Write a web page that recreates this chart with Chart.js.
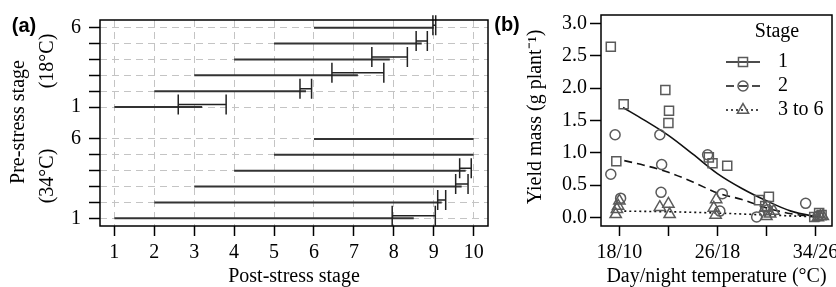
<!DOCTYPE html>
<html>
<head>
<meta charset="utf-8">
<script src="https://cdn.jsdelivr.net/npm/chart.js@4.4.0/dist/chart.umd.min.js"></script>
<style>
  html, body { margin: 0; padding: 0; background: #fff; overflow: hidden; width: 836px; height: 287px; }
  #chartA { position: absolute; left: 0; top: 0; }
  #chartB { position: absolute; left: 490px; top: 0; }
</style>
</head>
<body>
<canvas id="chartA" width="495" height="287"></canvas>
<canvas id="chartB" width="360" height="287"></canvas>
<script>
// ---- panel (a): development stage reached after stress ----
const preStages = [1, 2, 3, 4, 5, 6];
const postStages = [1, 2, 3, 4, 5, 6, 7, 8, 9, 10];
const mean18 = [3.2, 5.8, 7.1, 7.9, 8.7, 9.0];
const lo18 = [2.6, 5.65, 6.45, 7.45, 8.56, 8.98];
const hi18 = [3.8, 5.94, 7.75, 8.34, 8.84, 9.05];
const mean34 = [8.5, 9.2, 9.7, 9.8, 10.0, 10.0];
const lo34 = [7.96, 9.1, 9.55, 9.65, null, null];
const hi34 = [9.04, 9.3, 9.86, 9.94, null, null];
const rowLabels = { 1: '1', 6: '6', 8: '1', 13: '6' };

// ---- panel (b): yield mass vs temperature ----
const tempTicks = [18, 22, 26, 30, 34];
const tempLabels = { 18: '18/10', 26: '26/18', 34: '34/26' };
const yieldTicks = [0, 0.5, 1, 1.5, 2, 2.5, 3];
const obs1 = [[17.3, 2.64], [18.35, 1.75], [17.75, 0.87], [21.75, 1.97], [22.05, 1.65], [22.0, 1.46],
  [25.3, 0.93], [25.6, 0.84], [26.8, 0.80], [29.4, 0.27], [30.2, 0.32], [29.9, 0.18],
  [33.9, 0.01], [34.3, 0.07], [34.5, 0.04]];
const obs2 = [[17.65, 1.28], [17.3, 0.67], [18.1, 0.30], [21.3, 1.28], [21.45, 0.82], [21.4, 0.39],
  [25.2, 0.97], [26.4, 0.37], [26.2, 0.10], [29.2, 0.01], [30.1, 0.12], [33.2, 0.22], [34.2, 0.02]];
const obs3 = [[18.0, 0.26], [17.9, 0.18], [17.8, 0.13], [17.7, 0.05], [21.3, 0.16], [22.0, 0.21],
  [22.1, 0.05], [25.9, 0.28], [25.7, 0.15], [25.85, 0.04], [29.9, 0.15], [30.3, 0.06],
  [30.0, 0.02], [30.6, 0.10], [34.4, 0.02], [34.6, 0.02], [34.2, 0.0]];
const fit1T = [18.3, 20, 22, 24, 26, 28, 30, 32, 34.4];
const fit1 = [1.70, 1.51, 1.27, 0.98, 0.68, 0.45, 0.26, 0.10, 0.0];
const fit2T = [18.4, 20, 22, 24, 26, 28, 30, 32, 34.4];
const fit2 = [0.88, 0.81, 0.70, 0.55, 0.38, 0.28, 0.15, 0.06, 0.0];
const fit3T = [18.4, 22, 26, 30, 34.4];
const fit3 = [0.10, 0.09, 0.07, 0.04, 0.01];

Chart.defaults.font.family = "'Liberation Serif', 'DejaVu Serif', serif";
Chart.defaults.font.size = 20;
Chart.defaults.color = '#000';

function txt(ctx, s, x, y, font, rot, align) {
  ctx.save();
  ctx.translate(x, y);
  if (rot) ctx.rotate(rot);
  ctx.font = font;
  ctx.fillStyle = '#000';
  ctx.textAlign = align || 'center';
  ctx.textBaseline = 'middle';
  ctx.fillText(s, 0, 0);
  ctx.restore();
}
const serif = "20px 'Liberation Serif'";
const bold = "bold 20px 'Liberation Sans'";

const groups = [
  { offset: 7, mean: mean18, lo: lo18, hi: hi18 },
  { offset: 0, mean: mean34, lo: lo34, hi: hi34 }
];

const segs = [];
groups.forEach(g => preStages.forEach((s, i) => {
  segs.push({
    data: [{ x: s, y: g.offset + s }, { x: g.mean[i], y: g.offset + s }],
    borderColor: '#333', borderWidth: 2, pointRadius: 0
  });
}));

const frameA = {
  id: 'frameA',
  afterDatasetsDraw(chart) {
    const { ctx, chartArea: ca, scales: { x, y } } = chart;
    ctx.save();
    ctx.strokeStyle = '#222';
    ctx.lineWidth = 1.5;
    groups.forEach(g => g.lo.forEach((l, i) => {
      if (l == null) return;
      const yy = y.getPixelForValue(g.offset + preStages[i]) - 2.5;
      const x1 = x.getPixelForValue(l), x2 = x.getPixelForValue(g.hi[i]);
      ctx.beginPath();
      ctx.moveTo(x1, yy); ctx.lineTo(x2, yy);
      ctx.moveTo(x1, yy - 10); ctx.lineTo(x1, yy + 10);
      ctx.moveTo(x2, yy - 10); ctx.lineTo(x2, yy + 10);
      ctx.stroke();
    }));
    ctx.strokeStyle = '#000';
    ctx.lineWidth = 1.5;
    ctx.strokeRect(ca.left, ca.top, ca.right - ca.left, ca.bottom - ca.top);
    ctx.restore();

    txt(ctx, '(a)', 24, 26, bold);
    txt(ctx, 'Pre-stress stage', 19, 122, serif, -Math.PI / 2);
    txt(ctx, '(18°C)', 48, 61, serif, -Math.PI / 2);
    txt(ctx, '(34°C)', 48, 176, serif, -Math.PI / 2);
    txt(ctx, 'Post-stress stage', (ca.left + ca.right) / 2, 277, serif);
  }
};

new Chart(document.getElementById('chartA'), {
  type: 'line',
  data: { datasets: segs },
  options: {
    responsive: false,
    animation: false,
    layout: { padding: { left: 0, top: 14, right: 7, bottom: 0 } },
    plugins: { legend: { display: false }, tooltip: { enabled: false } },
    scales: {
      x: {
        type: 'linear', min: 0.64, max: 10.36,
        afterBuildTicks: s => { s.ticks = postStages.map(v => ({ value: v })); },
        afterFit: s => { s.height = 61; },
        ticks: { padding: 5, maxRotation: 0, autoSkip: false },
        grid: { color: '#c4c4c4', lineWidth: 1, tickColor: '#000', tickLength: 10, tickWidth: 1.5 },
        border: { display: false, dash: [7, 5] }
      },
      y: {
        type: 'linear', min: 0.52, max: 13.48,
        afterBuildTicks: s => {
          s.ticks = groups.flatMap(g => preStages.map(v => ({ value: g.offset + v })));
        },
        afterFit: s => { s.width = 100; },
        ticks: { padding: 8, autoSkip: false, callback: v => rowLabels[v] || '' },
        grid: { color: '#c4c4c4', lineWidth: 1, tickColor: '#000', tickLength: 11, tickWidth: 1.5 },
        border: { display: false, dash: [7, 5] }
      }
    }
  },
  plugins: [frameA]
});

// ---- panel (b) ----
const markerColor = '#5a5a5a';
const pts = arr => arr.map(p => ({ x: p[0], y: p[1] }));
const line = (tArr, vArr) => tArr.map((t, i) => ({ x: t, y: vArr[i] }));
const stages = [
  { label: '1', fitT: fit1T, fit: fit1, obs: obs1, dash: [], style: 'rect', r: 6.4 },
  { label: '2', fitT: fit2T, fit: fit2, obs: obs2, dash: [8, 5], style: 'circle', r: 5 },
  { label: '3 to 6', fitT: fit3T, fit: fit3, obs: obs3, dash: [2, 3], style: 'triangle', r: 6.5 }
];

const dsB = [];
stages.forEach(s => {
  dsB.push({
    type: 'scatter', label: s.label, data: pts(s.obs), pointStyle: s.style,
    pointRadius: s.r, borderColor: markerColor, backgroundColor: 'rgba(0,0,0,0)', borderWidth: 1.5
  });
});
stages.forEach(s => {
  dsB.push({
    type: 'line', label: s.label + ' fit', data: line(s.fitT, s.fit), borderColor: '#111',
    borderWidth: 1.6, borderDash: s.dash, pointRadius: 0, cubicInterpolationMode: 'monotone'
  });
});

const frameB = {
  id: 'frameB',
  afterDatasetsDraw(chart) {
    const { ctx, chartArea: ca } = chart;
    ctx.save();
    ctx.strokeStyle = '#000';
    ctx.lineWidth = 1.5;
    ctx.strokeRect(ca.left, ca.top, ca.right - ca.left, ca.bottom - ca.top);

    // legend
    const ox = -490;
    txt(ctx, 'Stage', 777 + ox, 32, serif);
    stages.forEach((s, i) => {
      const yy = 62 + i * 24;
      ctx.save();
      ctx.strokeStyle = '#111';
      ctx.lineWidth = 1.6;
      ctx.setLineDash(s.dash);
      ctx.beginPath();
      ctx.moveTo(726 + ox, yy); ctx.lineTo(760 + ox, yy);
      ctx.stroke();
      ctx.restore();
      ctx.save();
      ctx.strokeStyle = markerColor;
      ctx.fillStyle = 'rgba(0,0,0,0)';
      ctx.lineWidth = 1.5;
      Chart.helpers.drawPoint(ctx, { pointStyle: s.style, radius: s.r, borderWidth: 1.5, rotation: 0 }, 743 + ox, yy);
      ctx.restore();
      txt(ctx, s.label, 778 + ox, yy, serif, 0, 'left');
    });
    ctx.restore();

    txt(ctx, '(b)', 507 + ox, 25, bold);
    txt(ctx, 'Yield mass (g plant⁻¹)', 536 + ox, 117, serif, -Math.PI / 2);
    txt(ctx, 'Day/night temperature (°C)', (ca.left + ca.right) / 2, 277, serif);
  }
};

new Chart(document.getElementById('chartB'), {
  type: 'scatter',
  data: { datasets: dsB },
  options: {
    responsive: false,
    animation: false,
    layout: { padding: { left: 0, top: 15, right: 18, bottom: 0 } },
    plugins: { legend: { display: false }, tooltip: { enabled: false } },
    scales: {
      x: {
        type: 'linear', min: 16.5, max: 35.35,
        afterBuildTicks: s => { s.ticks = tempTicks.map(v => ({ value: v })); },
        afterFit: s => { s.height = 61; },
        ticks: { padding: 5, maxRotation: 0, autoSkip: false, callback: v => tempLabels[v] || '' },
        grid: { drawOnChartArea: false, tickColor: '#000', tickLength: 10, tickWidth: 1.5 },
        border: { display: false }
      },
      y: {
        type: 'linear', min: -0.13, max: 3.13,
        afterBuildTicks: s => { s.ticks = yieldTicks.map(v => ({ value: v })); },
        afterFit: s => { s.width = 111; },
        ticks: { padding: 3, autoSkip: false, callback: v => v.toFixed(1) },
        grid: { drawOnChartArea: false, tickColor: '#000', tickLength: 11, tickWidth: 1.5 },
        border: { display: false }
      }
    }
  },
  plugins: [frameB]
});
</script>
</body>
</html>
